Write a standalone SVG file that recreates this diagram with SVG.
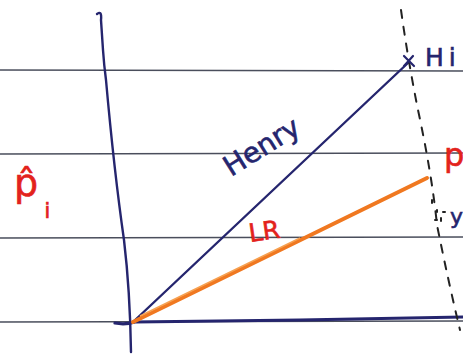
<svg xmlns="http://www.w3.org/2000/svg" width="463" height="356" viewBox="0 0 463 356">
<style>
.rule{stroke:#4a4e5c;stroke-width:1.6;fill:none}
.ink{stroke:#25256e;fill:none;stroke-linecap:round}
.dash{stroke:#222;stroke-width:2;fill:none;stroke-dasharray:8 9;stroke-linecap:round}
.navy{fill:#25256e;font-family:"DejaVu Sans",sans-serif;stroke:#25256e;stroke-width:0.6}
.red{fill:#e3221c;font-family:"DejaVu Sans",sans-serif;stroke:#e3221c;stroke-width:0.6}
</style>
<rect width="463" height="356" fill="#fff"/>
<g id="rules">
<line class="rule" x1="0" y1="70" x2="463" y2="71"/>
<line class="rule" x1="0" y1="154" x2="463" y2="153"/>
<line class="rule" x1="0" y1="238" x2="463" y2="237"/>
<line class="rule" x1="0" y1="322" x2="463" y2="321"/>
</g>
<g id="connectors">
<path class="ink" stroke-width="2.4" d="M97,14 Q102,10 101,20 L103,50 Q104,65 106,80 Q114,170 124,240 Q130,290 131,352"/>
<path class="ink" stroke-width="3.2" d="M115,323 Q125,325 135,322 L300,320 Q400,318 463,317"/>
<line class="ink" stroke-width="2.4" x1="133" y1="322" x2="409" y2="62"/>
<path d="M133,322 L427,178" stroke="#f07820" stroke-width="4" fill="none" stroke-linecap="round"/>
<path d="M140,316 L300,238" stroke="#f6a050" stroke-width="1.5" fill="none"/>
<path class="dash" d="M401,10 Q408,60 418,110 Q432,175 437,225 Q448,280 460,330"/>
<path class="ink" stroke-width="2.2" d="M404,56 L414,66 M413,56 L404,66"/>
<path d="M432,200 l0,3 M437,210 l0,2 M443,212 l2,0 M435,220 l2,0 M441,218 l0,3" stroke="#222" stroke-width="2" stroke-linecap="round"/>
</g>
<g id="henry">
<text class="navy" font-size="28" transform="translate(231,177) rotate(-32)">Henry</text>
</g>
<g id="lr">
<text class="red" font-size="25" transform="translate(250,242) rotate(-8)">LR</text>
</g>
<g id="hi">
<text class="navy" font-size="25" x="425" y="66" letter-spacing="5">Hi</text>
</g>
<g id="phat">
<text class="red" font-size="38" x="14" y="196">p&#x302;<tspan font-size="22" dx="6" dy="22">i</tspan></text>
</g>
<g id="p-right">
<text class="red" font-size="32" x="444" y="166">p</text>
</g>
<g id="y-right">
<text class="navy" font-size="22" x="450" y="224">y</text>
</g>
</svg>
